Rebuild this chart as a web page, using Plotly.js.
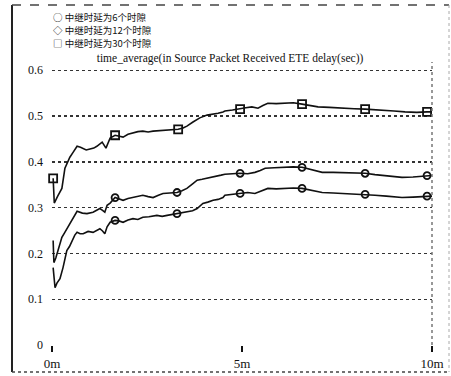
<!DOCTYPE html>
<html>
<head>
<meta charset="utf-8">
<script src="https://cdn.plot.ly/plotly-3.0.1.min.js"></script>
<style>html,body{margin:0;padding:0;background:#fff}#chart{width:451px;height:376px}</style>
</head>
<body>
<div id="chart"></div>
<script>
// legend labels and symbols
const seriesNames = ["中继时延为6个时隙", "中继时延为12个时隙", "中继时延为30个时隙"];
const legendGlyphs = ["○", "◇", "□"];
const chartTitle = "time_average(in Source Packet Received ETE delay(sec))";
const xTickVals = [0, 5, 10];
const xTickText = ["0m", "5m", "10m"];
const yTickVals = [0, 0.1, 0.2, 0.3, 0.4, 0.5, 0.6];
const yTickText = ["0", "0.1", "0.2", "0.3", "0.4", "0.5", "0.6"];

// 6 slots (lower curve), time in minutes
const t6 = [0.03, 0.08, 0.13, 0.21, 0.29, 0.39, 0.46, 0.53, 0.6, 0.66, 0.74, 0.82, 0.95, 1.08, 1.18, 1.26, 1.33, 1.39, 1.45, 1.53, 1.66, 1.76, 1.87, 2.0, 2.13, 2.26, 2.39, 2.55, 2.76, 2.9, 3.03, 3.16, 3.29, 3.42, 3.55, 3.7, 3.82, 3.97, 4.1, 4.24, 4.37, 4.5, 4.55, 4.75, 4.95, 5.15, 5.34, 5.5, 5.68, 5.9, 6.13, 6.35, 6.58, 6.85, 7.11, 7.4, 7.7, 8.0, 8.24, 8.5, 8.8, 9.21, 9.5, 9.87, 10.0];
const v6 = [0.169, 0.125, 0.135, 0.145, 0.169, 0.206, 0.215, 0.228, 0.24, 0.246, 0.243, 0.243, 0.248, 0.246, 0.25, 0.254, 0.249, 0.243, 0.258, 0.268, 0.272, 0.271, 0.268, 0.273, 0.276, 0.274, 0.279, 0.28, 0.283, 0.281, 0.283, 0.285, 0.287, 0.288, 0.29, 0.293, 0.298, 0.309, 0.312, 0.316, 0.318, 0.322, 0.327, 0.329, 0.331, 0.333, 0.331, 0.336, 0.342, 0.341, 0.342, 0.343, 0.342, 0.338, 0.333, 0.332, 0.331, 0.33, 0.329, 0.327, 0.325, 0.322, 0.323, 0.325, 0.325];
const m6t = [1.66, 3.29, 4.95, 6.58, 8.24, 9.87];
const m6v = [0.272, 0.287, 0.331, 0.342, 0.329, 0.325];

// 12 slots (middle curve)
const t12 = [0.03, 0.05, 0.1, 0.16, 0.26, 0.33, 0.39, 0.46, 0.53, 0.6, 0.66, 0.8, 0.92, 1.08, 1.18, 1.26, 1.33, 1.39, 1.45, 1.53, 1.66, 1.76, 1.87, 2.0, 2.13, 2.26, 2.39, 2.53, 2.66, 2.8, 2.92, 3.1, 3.29, 3.42, 3.55, 3.7, 3.82, 3.95, 4.08, 4.2, 4.34, 4.45, 4.55, 4.75, 4.95, 5.15, 5.34, 5.48, 5.61, 5.85, 6.13, 6.35, 6.58, 6.85, 7.11, 7.4, 7.7, 8.0, 8.24, 8.5, 8.8, 9.21, 9.5, 9.87, 10.0];
const v12 = [0.228, 0.18, 0.19, 0.206, 0.235, 0.245, 0.254, 0.262, 0.272, 0.283, 0.292, 0.288, 0.287, 0.29, 0.295, 0.298, 0.294, 0.29, 0.305, 0.31, 0.322, 0.319, 0.316, 0.32, 0.322, 0.325, 0.327, 0.324, 0.322, 0.327, 0.331, 0.332, 0.333, 0.337, 0.342, 0.352, 0.36, 0.362, 0.364, 0.366, 0.368, 0.371, 0.373, 0.374, 0.375, 0.374, 0.377, 0.381, 0.386, 0.387, 0.388, 0.389, 0.388, 0.383, 0.377, 0.377, 0.376, 0.376, 0.375, 0.372, 0.369, 0.366, 0.367, 0.37, 0.37];
const m12t = [1.66, 3.29, 4.95, 6.58, 8.24, 9.87];
const m12v = [0.322, 0.333, 0.375, 0.388, 0.375, 0.37];

// 30 slots (upper curve)
const t30 = [0.03, 0.06, 0.15, 0.26, 0.34, 0.4, 0.47, 0.55, 0.66, 0.75, 0.82, 0.9, 1.0, 1.1, 1.18, 1.32, 1.42, 1.53, 1.66, 1.76, 1.87, 2.0, 2.13, 2.26, 2.39, 2.53, 2.66, 2.8, 2.92, 3.1, 3.32, 3.45, 3.55, 3.71, 3.89, 4.08, 4.24, 4.37, 4.5, 4.55, 4.75, 4.95, 5.1, 5.26, 5.42, 5.55, 5.68, 5.9, 6.13, 6.35, 6.58, 6.8, 7.0, 7.3, 7.63, 7.95, 8.24, 8.5, 8.76, 9.0, 9.29, 9.6, 9.87, 10.0];
const v30 = [0.364, 0.31, 0.325, 0.342, 0.386, 0.398, 0.41, 0.42, 0.434, 0.432, 0.43, 0.426, 0.428, 0.43, 0.434, 0.443, 0.43, 0.452, 0.458, 0.456, 0.454, 0.46, 0.463, 0.466, 0.467, 0.465, 0.467, 0.468, 0.469, 0.47, 0.471, 0.474, 0.478, 0.487, 0.496, 0.502, 0.504, 0.506, 0.509, 0.511, 0.513, 0.515, 0.518, 0.52, 0.517, 0.523, 0.528, 0.527, 0.528, 0.529, 0.526, 0.523, 0.52, 0.519, 0.517, 0.516, 0.515, 0.514, 0.513, 0.511, 0.509, 0.508, 0.509, 0.509];
const m30t = [0.03, 1.66, 3.32, 4.95, 6.58, 8.24, 9.87];
const m30v = [0.364, 0.458, 0.471, 0.515, 0.526, 0.515, 0.509];

const serif = "Times New Roman, Liberation Serif, Noto Sans CJK SC, serif";
const cjk = "Noto Sans CJK SC, sans-serif";
const lineStyle = {color: '#111', width: 1.6};

function lineTrace(x, y, name) {
  return {x: x, y: y, name: name, type: 'scatter', mode: 'lines', line: lineStyle, showlegend: false, hoverinfo: 'skip'};
}
function markTrace(x, y, name, symbol) {
  return {x: x, y: y, name: name, type: 'scatter', mode: 'markers', showlegend: false, cliponaxis: false,
    marker: {symbol: symbol, size: symbol === 'circle-open' ? 7 : 8, color: '#111', line: {color: '#111', width: 1.8}}};
}

const data = [
  lineTrace(t6, v6, seriesNames[0]),
  lineTrace(t12, v12, seriesNames[1]),
  lineTrace(t30, v30, seriesNames[2]),
  markTrace(m6t, m6v, seriesNames[0], 'circle-open'),
  markTrace(m12t, m12v, seriesNames[1], 'circle-open'),
  markTrace(m30t, m30v, seriesNames[2], 'square-open')
];

// plot area geometry (px) used to place decorative annotations/frame
const L = 52, R = 19, T = 62, B = 31, W = 451, H = 376;
const pw = W - L - R, ph = H - T - B;
const px = v => (v - L) / pw;
const py = v => (H - B - v) / ph;

const legendRows = [17, 30, 43];
const annotations = seriesNames.map((n, i) => ({
  xref: 'paper', yref: 'paper', x: px(51), y: py(legendRows[i]), xanchor: 'left', yanchor: 'middle', align: 'left',
  text: legendGlyphs[i] + ' ' + n, showarrow: false,
  font: {family: cjk, size: 9.5, color: '#111'}
}));

const layout = {
  width: W, height: H,
  margin: {l: L, r: R, t: T, b: B, pad: 0},
  paper_bgcolor: '#fff', plot_bgcolor: '#fff',
  showlegend: false,
  title: {text: chartTitle, x: 230 / W, xanchor: 'center', y: 1 - 57.5 / H, yanchor: 'middle',
    font: {family: serif, size: 11.5, color: '#111'}},
  font: {family: serif, color: '#111'},
  xaxis: {range: [0, 10], tickvals: xTickVals, ticktext: xTickText, ticks: 'outside', ticklen: 6, tickwidth: 2,
    tickcolor: '#111', showgrid: false, zeroline: false, showline: false,
    tickfont: {family: serif, size: 13, color: '#111'}, fixedrange: true},
  yaxis: {range: [0, 0.618], tickvals: yTickVals, ticktext: yTickText, ticks: '', showgrid: true,
    gridcolor: '#333', gridwidth: 1.4, griddash: 'dot', zeroline: false, showline: false,
    ticklabelstandoff: 8, tickfont: {family: serif, size: 12, color: '#111'}, fixedrange: true},
  annotations: annotations,
  shapes: [
    {type: 'line', xref: 'paper', yref: 'paper', x0: 1, x1: 1, y0: 0, y1: 1, line: {color: '#777', width: 1.5, dash: 'dot'}},
    {type: 'line', xref: 'paper', yref: 'paper', x0: px(12), x1: px(12), y0: py(5), y1: py(372), line: {color: '#222', width: 2}},
    {type: 'line', xref: 'paper', yref: 'paper', x0: px(12), x1: px(449), y0: py(5), y1: py(5), line: {color: '#444', width: 1.5, dash: 'dash'}},
    {type: 'line', xref: 'paper', yref: 'paper', x0: px(12), x1: px(449), y0: py(372), y1: py(372), line: {color: '#444', width: 1.5, dash: 'dot'}},
    {type: 'line', xref: 'paper', yref: 'paper', x0: px(449), x1: px(449), y0: py(5), y1: py(372), line: {color: '#aaa', width: 1, dash: 'dot'}}
  ]
};

Plotly.newPlot('chart', data, layout, {displayModeBar: false, staticPlot: true});
</script>
</body>
</html>
